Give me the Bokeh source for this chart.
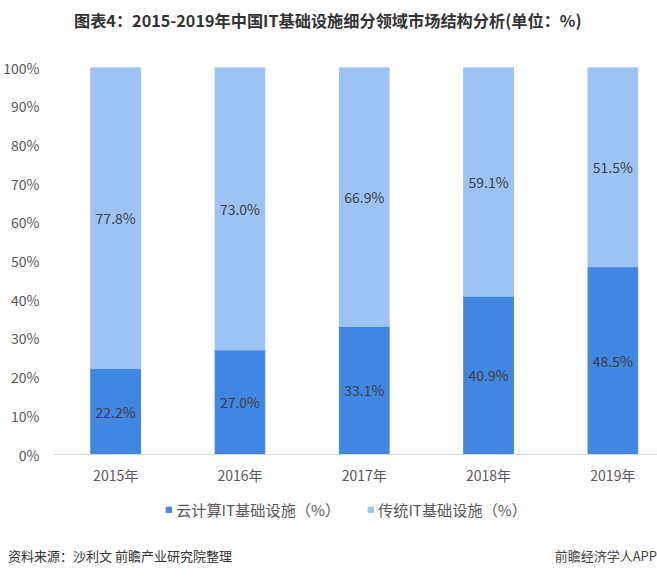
from bokeh.plotting import figure
from bokeh.models import Range1d, Legend, LegendItem, FixedTicker, ColumnDataSource, Div
from bokeh.layouts import column
from bokeh.core.properties import value
from bokeh.embed import file_html
from bokeh.resources import INLINE

years = ["2015年", "2016年", "2017年", "2018年", "2019年"]
cloud = [22.2, 27.0, 33.1, 40.9, 48.5]
traditional = [77.8, 73.0, 66.9, 59.1, 51.5]
series_names = ["云计算IT基础设施（%）", "传统IT基础设施（%）"]
y_ticks = [0, 10, 20, 30, 40, 50, 60, 70, 80, 90, 100]
title_text = "图表4：2015-2019年中国IT基础设施细分领域市场结构分析(单位：%)"
source_text = "资料来源：沙利文 前瞻产业研究院整理"
brand_text = "前瞻经济学人APP"

FONT = "Noto Sans CJK SC"
W = 657
H_TITLE, H_MAIN, H_LEG, H_FOOT = 40, 455, 54, 30
ML, MT = 52, 67 - 40
MB = H_TITLE + H_MAIN - 454
c1, c2 = "#4186E0", "#9DC3F5"

xs = list(range(len(years)))
src = ColumnDataSource(dict(
    x=xs, cloud=cloud, trad=traditional,
    top2=[c + t for c, t in zip(cloud, traditional)],
    ymid1=[c / 2 for c in cloud],
    ymid2=[c + t / 2 for c, t in zip(cloud, traditional)],
    lab1=[f"{v:.1f}%" for v in cloud],
    lab2=[f"{v:.1f}%" for v in traditional],
))

title = Div(width=W, height=H_TITLE, margin=(0, 0, 0, 0),
            text=(f'<div style="width:{W}px;height:{H_TITLE}px;line-height:{H_TITLE}px;'
                  f'padding-left:74px;box-sizing:border-box;font-family:\'{FONT}\';'
                  f'font-size:16.2px;font-weight:bold;color:#333333;white-space:nowrap;">'
                  f'{title_text}</div>'))

p = figure(width=W, height=H_MAIN, output_backend="svg", toolbar_location=None,
           x_range=Range1d(-0.5, 4.359), y_range=Range1d(0, 100),
           min_border_left=ML, min_border_right=0, min_border_top=MT, min_border_bottom=MB)
p.outline_line_color = None
p.grid.visible = False

r1 = p.vbar(x="x", bottom=0, top="cloud", width=0.4, color=c1, source=src)
r2 = p.vbar(x="x", bottom="cloud", top="top2", width=0.4, color=c2, source=src)

for ycol, lcol in [("ymid1", "lab1"), ("ymid2", "lab2")]:
    p.text(x="x", y=ycol, text=lcol, source=src, text_align="center", text_baseline="middle",
           text_font=value(FONT), text_font_size="14px", text_color="#404040")

for ax in (p.xaxis[0], p.yaxis[0]):
    ax.major_tick_line_color = None
    ax.minor_tick_line_color = None
    ax.major_tick_out = 0
    ax.minor_tick_out = 0
    ax.major_label_text_font = FONT
    ax.major_label_text_font_size = "14px"
    ax.major_label_text_color = "#595959"

p.xaxis.ticker = FixedTicker(ticks=xs)
p.xaxis.major_label_overrides = {i: y for i, y in enumerate(years)}
p.xaxis.axis_line_color = "#D9D9D9"
p.xaxis.major_label_standoff = 10

p.yaxis.ticker = FixedTicker(ticks=y_ticks)
p.yaxis.major_label_overrides = {v: f"{v}%" for v in y_ticks}
p.yaxis.axis_line_color = None
p.yaxis.major_label_standoff = 14

# legend strip (its frame lines up with the main frame, left = ML)
b = figure(width=W, height=H_LEG, output_backend="svg", toolbar_location=None,
           x_range=Range1d(0, 1), y_range=Range1d(0, 1),
           x_axis_location=None, y_axis_location=None,
           min_border_left=ML, min_border_right=0, min_border_top=0, min_border_bottom=0)
b.outline_line_color = None
b.grid.visible = False
lr1 = b.vbar(x=[0.5], top=[1], width=0.1, color=c1, visible=False)
lr2 = b.vbar(x=[0.5], top=[1], width=0.1, color=c2, visible=False)
for name, rend, lx in [(series_names[0], lr1, 164 - ML), (series_names[1], lr2, 366 - ML)]:
    lg = Legend(items=[LegendItem(label=name, renderers=[rend])],
                location=(lx, H_LEG - 16 - 9), orientation="horizontal",
                label_text_font=FONT, label_text_font_size="15.2px", label_text_color="#595959",
                glyph_width=7, glyph_height=7, label_height=18, label_standoff=4,
                inactive_fill_alpha=0, click_policy="none",
                border_line_color=None, background_fill_alpha=0, margin=0, padding=0)
    b.add_layout(lg, "center")

foot = Div(width=W, height=H_FOOT, margin=(0, 0, 0, 0),
           text=(f'<div style="display:flex;justify-content:space-between;width:{W}px;'
                 f'font-family:\'{FONT}\';font-size:13px;line-height:13px;">'
                 f'<span style="padding-left:8px;color:#333333;">{source_text}</span>'
                 f'<span style="color:#444444;">{brand_text}</span></div>'))

open("out.html", "w").write(file_html(column(title, p, b, foot, spacing=0), INLINE))
